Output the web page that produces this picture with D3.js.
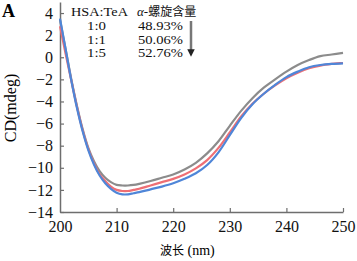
<!DOCTYPE html>
<html>
<head>
<meta charset="utf-8">
<script src="https://cdn.jsdelivr.net/npm/d3@7"></script>
<style>
  body { margin: 0; background: #fff; }
  svg { display: block; }
</style>
</head>
<body>
<svg id="chart" width="357" height="261"></svg>
<script>
// wavelength (nm)
const wavelengths = [200, 201, 202, 203, 204, 205, 206, 207, 208, 209, 210, 211, 212, 213, 214,
  216, 218, 220, 222, 224, 226, 228, 230, 232, 234, 236, 238, 240, 242, 244, 246, 248, 250];

// CD (mdeg) per HSA:TeA ratio
const cd_1_0 = [3.4, 0.7, -2.0, -4.4, -6.5, -8.2, -9.4, -10.3, -10.9, -11.3, -11.55, -11.6, -11.6, -11.55, -11.45,
  -11.2, -10.9, -10.6, -10.15, -9.55, -8.7, -7.6, -6.2, -4.85, -3.7, -2.75, -2.0, -1.3, -0.7, -0.25, 0.1, 0.25, 0.4];
const cd_1_1 = [2.8, 0.3, -2.1, -4.5, -6.6, -8.3, -9.6, -10.6, -11.2, -11.7, -12.0, -12.1, -12.1, -12.0, -11.9,
  -11.6, -11.3, -11.0, -10.6, -10.05, -9.3, -8.2, -6.8, -5.35, -4.2, -3.3, -2.55, -1.9, -1.4, -1.0, -0.75, -0.6, -0.5];
const cd_1_5 = [3.5, 0.7, -2.1, -4.6, -6.7, -8.4, -9.7, -10.7, -11.4, -11.9, -12.25, -12.4, -12.4, -12.3, -12.2,
  -11.95, -11.7, -11.4, -11.0, -10.5, -9.75, -8.6, -7.05, -5.5, -4.25, -3.3, -2.5, -1.8, -1.3, -0.9, -0.7, -0.6, -0.55];

const ratios = ["1:0", "1:1", "1:5"];
const helix = ["48.93%", "50.06%", "52.76%"];
const colors = ["#8c8c8c", "#ee6f75", "#4f86d8"];
const series = [cd_1_0, cd_1_1, cd_1_5];

const xTicks = [200, 210, 220, 230, 240, 250];
const yTicks = [-14, -12, -10, -8, -6, -4, -2, 0, 2, 4];

const svg = d3.select("#chart");
const margin = { left: 60, top: 2, right: 14, bottom: 49 };
const width = 357 - margin.left - margin.right,
    height = 261 - margin.top - margin.bottom;

const x = d3.scaleLinear().domain([200, 250]).range([0, width]);
const y = d3.scaleLinear().domain([-14, 5]).range([height, 0]);

const g = svg.append("g")
    .attr("transform", `translate(${margin.left}, ${margin.top})`);

const serif = "'Liberation Serif', 'Times New Roman', serif";
const cjk = "'Noto Sans CJK SC'";

// axes
const xAxis = g.append("g")
    .attr("transform", `translate(0, ${height})`)
    .call(d3.axisBottom(x).tickValues(xTicks).tickSizeInner(-4).tickSizeOuter(0).tickPadding(9));
const yAxis = g.append("g")
    .call(d3.axisLeft(y).tickValues(yTicks).tickSizeInner(-4).tickSizeOuter(0).tickPadding(7));

[xAxis, yAxis].forEach(a => {
  a.select(".domain").attr("stroke", "#6e6e6e").attr("stroke-width", 1.5);
  a.selectAll(".tick line").attr("stroke", "#6e6e6e").attr("stroke-width", 1.2);
  a.selectAll(".tick text")
      .attr("fill", "#111")
      .style("font-family", serif)
      .style("font-size", "16px");
});
xAxis.selectAll(".tick").filter(d => d === 200).select("line").remove();

// curves
const line = d3.line()
    .x((d, i) => x(wavelengths[i]))
    .y(d => y(d))
    .curve(d3.curveCatmullRom);

series.forEach((s, i) => {
  g.append("path")
      .datum(s)
      .attr("fill", "none")
      .attr("stroke", colors[i])
      .attr("stroke-width", 2.2)
      .attr("stroke-linejoin", "round")
      .attr("d", line);
});

// panel letter
svg.append("text")
    .attr("x", 2).attr("y", 17)
    .style("font-family", serif)
    .style("font-size", "18px")
    .style("font-weight", "bold")
    .text("A");

// axis titles
svg.append("text")
    .attr("transform", "translate(16, 108) rotate(-90)")
    .attr("text-anchor", "middle")
    .style("font-family", serif)
    .style("font-size", "16px")
    .text("CD(mdeg)");

const xt = svg.append("text")
    .attr("x", 160).attr("y", 255);
xt.append("tspan").style("font-family", cjk).style("font-size", "12px").text("波长");
xt.append("tspan").style("font-family", serif).style("font-size", "14px").text(" (nm)");

// legend (glyphs stretched sideways like the source figure)
const leg = svg.append("g").style("font-family", serif).style("font-size", "12px").attr("fill", "#111");
leg.append("text").attr("x", 71).attr("y", 15.5)
    .style("font-size", "12.5px")
    .attr("textLength", 57).attr("lengthAdjust", "spacingAndGlyphs")
    .text("HSA:TeA");
const ht = leg.append("text").attr("x", 137).attr("y", 15.5);
ht.append("tspan").style("font-style", "italic").style("font-size", "13px").text("α");
ht.append("tspan").style("font-size", "13px").text("-");
ht.append("tspan").style("font-family", cjk).style("font-size", "12px").text("螺旋含量");

ratios.forEach((r, i) => {
  leg.append("text").attr("x", 87).attr("y", 30 + i * 13.5)
      .attr("textLength", 19).attr("lengthAdjust", "spacingAndGlyphs")
      .text(r);
  leg.append("text").attr("x", 138).attr("y", 30 + i * 13.5)
      .attr("textLength", 45).attr("lengthAdjust", "spacingAndGlyphs")
      .text(helix[i]);
});

// arrow
svg.append("defs").append("marker")
    .attr("id", "head")
    .attr("viewBox", "0 0 10 10")
    .attr("refX", 5).attr("refY", 5)
    .attr("markerWidth", 3).attr("markerHeight", 3)
    .attr("orient", "auto")
    .append("path").attr("d", "M0,0 L10,5 L0,10 z").attr("fill", "#222");
svg.append("line")
    .attr("x1", 191).attr("y1", 21).attr("x2", 191).attr("y2", 53)
    .attr("stroke", "#777").attr("stroke-width", 2.5)
    .attr("marker-end", "url(#head)");
</script>
</body>
</html>
